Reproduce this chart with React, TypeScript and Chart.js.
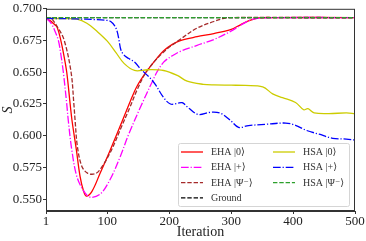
import React, { useEffect, useRef } from "react";
import { Chart, registerables } from "chart.js";

Chart.register(...registerables);

// ---- Data ----
const xTicks = [1, 100, 200, 300, 400, 500];
const yTicks = [0.55, 0.575, 0.6, 0.625, 0.65, 0.675, 0.7];

const ehaZeroIters = [1, 8, 14, 19, 25, 30, 34.5, 40, 43, 50, 56, 61.5, 66, 75, 88, 105, 122, 137, 148, 164, 180, 191, 205, 218, 245, 272, 299, 315, 328, 345, 370, 500];
const ehaZeroVals = [0.6922, 0.6905, 0.688, 0.6855, 0.675, 0.663, 0.65, 0.625, 0.612, 0.589, 0.568, 0.5567, 0.5525, 0.556, 0.57, 0.589, 0.609, 0.627, 0.639, 0.651, 0.661, 0.667, 0.672, 0.675, 0.678, 0.6805, 0.6836, 0.6874, 0.6905, 0.6928, 0.6931, 0.6931];

const ehaPlusIters = [1, 5, 10, 15, 21, 25, 29, 34.5, 37, 42.6, 50.7, 61.5, 72, 88.5, 104.7, 121, 134, 154, 172, 180, 191, 205, 218, 245, 272, 299, 321, 332, 350, 380, 500];
const ehaPlusVals = [0.6922, 0.691, 0.688, 0.683, 0.675, 0.664, 0.65, 0.625, 0.612, 0.589, 0.568, 0.5567, 0.5516, 0.554, 0.5657, 0.5837, 0.6005, 0.623, 0.642, 0.65, 0.658, 0.663, 0.6665, 0.6712, 0.6758, 0.6822, 0.6887, 0.6913, 0.6928, 0.6931, 0.6931];

const ehaPsiIters = [1, 9, 19, 30, 41.5, 46, 48, 51.7, 58.8, 68, 80, 88.5, 105, 122, 137, 148, 164, 191, 218, 245, 272, 288, 300, 500];
const ehaPsiVals = [0.6928, 0.6925, 0.686, 0.6758, 0.65, 0.625, 0.612, 0.5915, 0.576, 0.5705, 0.57, 0.5735, 0.587, 0.606, 0.623, 0.636, 0.651, 0.666, 0.676, 0.6848, 0.69, 0.6925, 0.6931, 0.6931];

const groundIters = [1, 500];
const groundVals = [0.6931, 0.6931];

const hsaZeroIters = [1, 30, 51, 67, 84, 100, 114, 127, 144, 165, 191, 213, 229, 255, 272, 300, 323, 351, 367, 383, 404, 417, 424, 434, 458, 486, 500];
const hsaZeroVals = [0.6925, 0.6922, 0.6918, 0.6886, 0.682, 0.6745, 0.6655, 0.657, 0.6514, 0.652, 0.6514, 0.6475, 0.643, 0.6405, 0.64, 0.6398, 0.6396, 0.6385, 0.633, 0.63, 0.6262, 0.6205, 0.6213, 0.618, 0.6174, 0.618, 0.6174];

const hsaPlusIters = [1, 50, 80, 100, 106, 112, 116, 119, 122, 127, 134, 144, 153, 170, 178, 191, 202, 213, 221, 231, 247, 267, 283, 299, 312, 328, 356, 388, 404, 421, 442, 464, 486, 500];
const hsaPlusVals = [0.6925, 0.692, 0.6915, 0.6908, 0.6898, 0.6865, 0.682, 0.675, 0.6675, 0.6635, 0.661, 0.658, 0.653, 0.645, 0.64, 0.63, 0.625, 0.6255, 0.626, 0.622, 0.6167, 0.6185, 0.6177, 0.612, 0.6066, 0.608, 0.609, 0.61, 0.6082, 0.6043, 0.6012, 0.598, 0.5974, 0.5966];

const hsaPsiIters = [1, 500];
const hsaPsiVals = [0.6931, 0.6931];

const DASH = [4.4, 1.9];
const DASHDOT = [7.7, 1.9, 1.2, 1.9];

type Series = { label: string; iters: number[]; vals: number[]; color: string; dash: number[] };

const seriesList: Series[] = [
  { label: "EHA |0⟩", iters: ehaZeroIters, vals: ehaZeroVals, color: "#ff0000", dash: [] },
  { label: "EHA |+⟩", iters: ehaPlusIters, vals: ehaPlusVals, color: "#ff00ff", dash: DASHDOT },
  { label: "EHA |Ψ⁻⟩", iters: ehaPsiIters, vals: ehaPsiVals, color: "#a52a2a", dash: DASH },
  { label: "Ground", iters: groundIters, vals: groundVals, color: "#000000", dash: DASH },
  { label: "HSA |0⟩", iters: hsaZeroIters, vals: hsaZeroVals, color: "#cccc00", dash: [] },
  { label: "HSA |+⟩", iters: hsaPlusIters, vals: hsaPlusVals, color: "#0000ff", dash: DASHDOT },
  { label: "HSA |Ψ⁻⟩", iters: hsaPsiIters, vals: hsaPsiVals, color: "#2ca02c", dash: DASH },
];

const SERIF = "'Liberation Serif', 'DejaVu Serif', serif";

const framePlugin = {
  id: "frame",
  afterDatasetsDraw(chart: any) {
    const { ctx, chartArea } = chart;
    ctx.save();
    ctx.strokeStyle = "#333";
    ctx.lineWidth = 1;
    ctx.strokeRect(chartArea.left + 0.5, chartArea.top + 0.5, chartArea.right - chartArea.left - 1, chartArea.bottom - chartArea.top - 1);
    ctx.restore();
  },
};

const legendPlugin = {
  id: "innerLegend",
  afterDraw(chart: any) {
    const { ctx, chartArea } = chart;
    const boxW = 171;
    const boxH = 63;
    const bx = chartArea.right - 6 - boxW;
    const by = chartArea.bottom - 5 - boxH;
    ctx.save();
    ctx.beginPath();
    const r = 2;
    const x0 = bx + 0.5, y0 = by + 0.5, w = boxW, h = boxH;
    ctx.moveTo(x0 + r, y0);
    ctx.lineTo(x0 + w - r, y0);
    ctx.quadraticCurveTo(x0 + w, y0, x0 + w, y0 + r);
    ctx.lineTo(x0 + w, y0 + h - r);
    ctx.quadraticCurveTo(x0 + w, y0 + h, x0 + w - r, y0 + h);
    ctx.lineTo(x0 + r, y0 + h);
    ctx.quadraticCurveTo(x0, y0 + h, x0, y0 + h - r);
    ctx.lineTo(x0, y0 + r);
    ctx.quadraticCurveTo(x0, y0, x0 + r, y0);
    ctx.closePath();
    ctx.fillStyle = "rgba(255,255,255,0.85)";
    ctx.fill();
    ctx.strokeStyle = "#d5d5d5";
    ctx.lineWidth = 1;
    ctx.stroke();

    const rowH = 15.3;
    seriesList.forEach((s, k) => {
      const col = k < 4 ? 0 : 1;
      const row = k < 4 ? k : k - 4;
      const lx = bx + 3 + col * 92;
      const ly = by + 9 + row * rowH;
      ctx.beginPath();
      ctx.setLineDash(s.dash);
      ctx.strokeStyle = s.color;
      ctx.lineWidth = 1.3;
      ctx.moveTo(lx, ly);
      ctx.lineTo(lx + 22, ly);
      ctx.stroke();
      ctx.setLineDash([]);
      ctx.fillStyle = "#333";
      ctx.font = `10px ${SERIF}`;
      ctx.textBaseline = "middle";
      ctx.textAlign = "left";
      ctx.fillText(s.label, lx + 30, ly + 0.5);
    });
    ctx.restore();
  },
};

export default function App() {
  const canvasRef = useRef<HTMLCanvasElement | null>(null);

  useEffect(() => {
    document.body.style.margin = "0";
    const canvas = canvasRef.current;
    if (!canvas) return;

    const datasets = seriesList.map((s, i) => ({
      label: s.label,
      data: s.iters.map((x, j) => ({ x, y: s.vals[j] })),
      borderColor: s.color,
      backgroundColor: s.color,
      borderWidth: 1.3,
      borderDash: s.dash,
      pointRadius: 0,
      fill: false,
      tension: 0.35,
      order: -i,
    }));

    const chart = new Chart(canvas, {
      type: "line",
      data: { datasets },
      plugins: [framePlugin, legendPlugin],
      options: {
        animation: false,
        responsive: false,
        maintainAspectRatio: false,
        layout: { padding: { top: 6, right: 11, left: 0, bottom: 0 } },
        plugins: { legend: { display: false }, tooltip: { enabled: false } },
        scales: {
          x: {
            type: "linear",
            min: 1,
            max: 500,
            afterBuildTicks: (scale: any) => {
              scale.ticks = xTicks.map((v) => ({ value: v }));
            },
            afterFit: (scale: any) => {
              scale.height = 30;
            },
            ticks: {
              font: { family: SERIF, size: 13 },
              color: "#222",
              padding: 0,
              maxRotation: 0,
              autoSkip: false,
              callback: (v: any) => String(v),
            },
            grid: { drawOnChartArea: false, tickLength: 3, color: "#333" },
            border: { display: true, color: "#333" },
            title: {
              display: true,
              text: "Iteration",
              font: { family: SERIF, size: 14 },
              color: "#222",
              padding: { top: 0, bottom: 0 },
            },
          },
          y: {
            type: "linear",
            min: 0.5407,
            max: 0.7,
            afterBuildTicks: (scale: any) => {
              scale.ticks = yTicks.map((v) => ({ value: v }));
            },
            afterFit: (scale: any) => {
              scale.width = 46;
            },
            ticks: {
              font: { family: SERIF, size: 13 },
              color: "#222",
              padding: 1,
              autoSkip: false,
              callback: (v: any) => Number(v).toFixed(3),
            },
            grid: { drawOnChartArea: false, tickLength: 3, color: "#333" },
            border: { display: true, color: "#333" },
            title: {
              display: true,
              text: "S",
              font: { family: SERIF, size: 14, style: "italic" },
              color: "#222",
              padding: { top: 0, bottom: 0 },
            },
          },
        },
      },
    });

    return () => {
      chart.destroy();
    };
  }, []);

  return (
    <div style={{ width: 366, height: 241 }}>
      <canvas ref={canvasRef} width={366} height={241} style={{ display: "block" }} />
    </div>
  );
}
